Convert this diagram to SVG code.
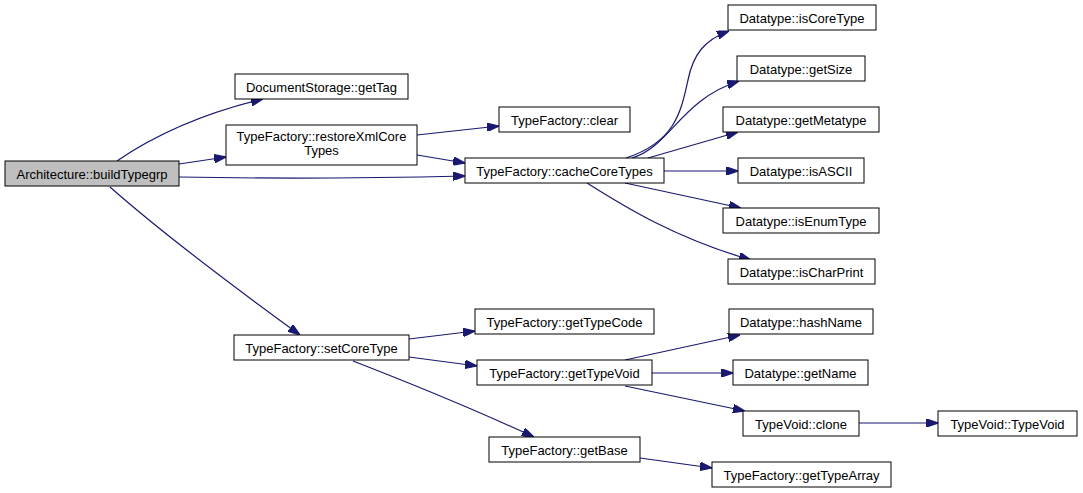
<svg xmlns="http://www.w3.org/2000/svg" width="1083" height="493" viewBox="0 0 1083 493">
<style>
.n rect{fill:#fff;stroke:#000;stroke-width:1}
.n text{font-family:"Liberation Sans",Arial,sans-serif;font-size:13px;fill:#000;text-anchor:middle}
#root rect{fill:#bfbfbf}
.e path{fill:none;stroke:#191970;stroke-width:1.2;marker-end:url(#ah)}
</style>
<defs>
<marker id="ah" viewBox="0 0 10 7" refX="10" refY="3.5" markerWidth="12" markerHeight="8.5" markerUnits="userSpaceOnUse" orient="auto">
<path d="M0,0 L10,3.5 L0,7 z" fill="#191970" stroke="#191970"/>
</marker>
</defs>
<rect width="1083" height="493" fill="#fff"/>
<g class="e" id="edges">
<path d="M117,161 C155,135 205,113 263,99"/>
<path d="M179,164 L226,157"/>
<path d="M179,177 C280,179 380,178 465,176"/>
<path d="M110,187 C170,240 245,295 300,335"/>
<path d="M417,135 L499,126"/>
<path d="M417,155 L465,163"/>
<path d="M626,158 C675,142 681,112 688,80 C693,55 704,40 729,31"/>
<path d="M632,158 C670,147 680,100 739,81"/>
<path d="M648,158 L738,132"/>
<path d="M664,171 L738,171"/>
<path d="M625,183 L741,208"/>
<path d="M587,183 C625,207 675,238 751,260"/>
<path d="M409,339 L475,331"/>
<path d="M409,357 L477,366"/>
<path d="M353,361 C420,387 480,412 534,437"/>
<path d="M625,360 L740,335"/>
<path d="M652,373 L733,373"/>
<path d="M625,386 L745,411"/>
<path d="M859,423 L938,423"/>
<path d="M640,458 L712,468"/>
</g>
<g class="n" id="root"><rect x="5" y="161" width="174" height="25"/><text x="92" y="178.5">Architecture::buildTypegrp</text></g>
<g class="n" id="getTag"><rect x="235" y="74" width="173" height="25"/><text x="321.5" y="91.5">DocumentStorage::getTag</text></g>
<g class="n" id="restoreXml"><rect x="226" y="125" width="191" height="40"/><text x="321.5" y="141">TypeFactory::restoreXmlCore</text><text x="321.5" y="155">Types</text></g>
<g class="n" id="clear"><rect x="499" y="107" width="131" height="25"/><text x="564.5" y="124.5">TypeFactory::clear</text></g>
<g class="n" id="cacheCoreTypes"><rect x="465" y="158" width="199" height="25"/><text x="564.5" y="175.5">TypeFactory::cacheCoreTypes</text></g>
<g class="n" id="isCoreType"><rect x="728" y="5" width="148" height="25"/><text x="802" y="22.5">Datatype::isCoreType</text></g>
<g class="n" id="getSize"><rect x="737" y="56" width="128" height="25"/><text x="801" y="73.5">Datatype::getSize</text></g>
<g class="n" id="getMetatype"><rect x="723" y="107" width="156" height="25"/><text x="801" y="124.5">Datatype::getMetatype</text></g>
<g class="n" id="isASCII"><rect x="738" y="158" width="126" height="25"/><text x="801" y="175.5">Datatype::isASCII</text></g>
<g class="n" id="isEnumType"><rect x="723" y="208" width="156" height="25"/><text x="801" y="225.5">Datatype::isEnumType</text></g>
<g class="n" id="isCharPrint"><rect x="728" y="259" width="147" height="25"/><text x="801.5" y="276.5">Datatype::isCharPrint</text></g>
<g class="n" id="setCoreType"><rect x="234" y="335" width="175" height="25"/><text x="321.5" y="352.5">TypeFactory::setCoreType</text></g>
<g class="n" id="getTypeCode"><rect x="475" y="309" width="179" height="25"/><text x="564.5" y="326.5">TypeFactory::getTypeCode</text></g>
<g class="n" id="getTypeVoid"><rect x="477" y="360" width="175" height="25"/><text x="564.5" y="377.5">TypeFactory::getTypeVoid</text></g>
<g class="n" id="hashName"><rect x="729" y="309" width="144" height="25"/><text x="801" y="326.5">Datatype::hashName</text></g>
<g class="n" id="getName"><rect x="733" y="360" width="135" height="25"/><text x="800.5" y="377.5">Datatype::getName</text></g>
<g class="n" id="clone"><rect x="743" y="411" width="116" height="25"/><text x="801" y="428.5">TypeVoid::clone</text></g>
<g class="n" id="typeVoidCtor"><rect x="938" y="411" width="139" height="25"/><text x="1007.5" y="428.5">TypeVoid::TypeVoid</text></g>
<g class="n" id="getBase"><rect x="489" y="437" width="151" height="25"/><text x="564.5" y="454.5">TypeFactory::getBase</text></g>
<g class="n" id="getTypeArray"><rect x="712" y="462" width="179" height="25"/><text x="801.5" y="479.5">TypeFactory::getTypeArray</text></g>
</svg>
